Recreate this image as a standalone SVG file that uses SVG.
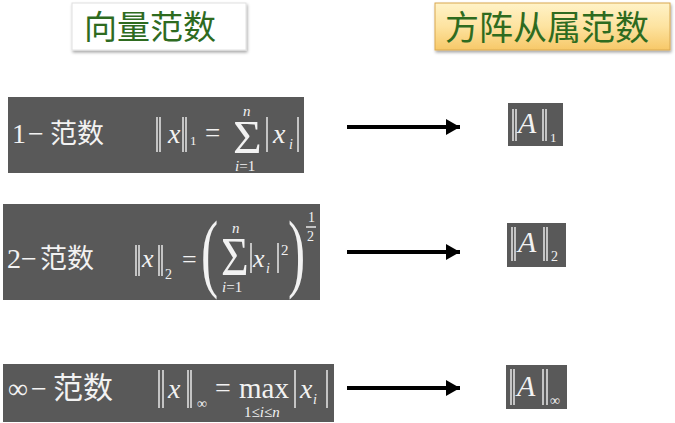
<svg xmlns="http://www.w3.org/2000/svg" width="675" height="423" viewBox="0 0 675 423">
<style>
.bg{fill:#ffffff}
.dk{fill:#595959}
.t{fill:#f2f2f2}
.it{font-style:italic}
.cjk{font-style:normal}
.bar{stroke:#f2f2f2;stroke-width:1.4;fill:none}
.title{fill:#2e6b1f}
.conn{stroke:#000;stroke-width:4;fill:none}
</style>
<defs>
<marker id="ah" markerUnits="userSpaceOnUse" markerWidth="14" markerHeight="16" refX="14" refY="8" orient="auto">
<path d="M0,0 L14,8 L0,16 z" fill="#000"/>
</marker>
<linearGradient id="gold" x1="0" y1="0" x2="0" y2="1">
<stop offset="0" stop-color="#fff3c8"/>
<stop offset="0.5" stop-color="#fde3a0"/>
<stop offset="1" stop-color="#f7c868"/>
</linearGradient>
<filter id="sh" x="-10%" y="-20%" width="130%" height="150%">
<feDropShadow dx="1" dy="2" stdDeviation="1.5" flood-color="#000" flood-opacity="0.35"/>
</filter>
</defs>
<rect class="bg" x="0" y="0" width="675" height="423"/>

<g id="title-vector" font-family="Noto Sans CJK SC, sans-serif">
<rect x="72" y="3" width="174" height="47" fill="#ffffff" stroke="#e0e0e0" stroke-width="1" filter="url(#sh)"/>
<text class="title" x="84" y="39" font-size="33">向量范数</text>
</g>
<g id="title-matrix" font-family="Noto Sans CJK SC, sans-serif">
<rect x="435" y="3" width="235" height="47" fill="url(#gold)" stroke="#d9a850" stroke-width="1" filter="url(#sh)"/>
<text class="title" x="445" y="40" font-size="34">方阵从属范数</text>
</g>

<g id="vec-1" font-family="Liberation Serif, Times New Roman, serif">
<rect class="dk" x="8" y="97" width="296" height="76"/>
<text class="t" y="143" font-size="28"><tspan x="12">1</tspan><tspan x="28">−</tspan><tspan class="cjk" x="50" font-size="27" font-family="Noto Sans CJK SC, sans-serif">范数</tspan></text>
<line class="bar" x1="157" y1="117" x2="157" y2="152"/>
<line class="bar" x1="160" y1="117" x2="160" y2="152"/>
<text class="t it" x="168" y="143" font-size="28">x</text>
<line class="bar" x1="183" y1="117" x2="183" y2="152"/>
<line class="bar" x1="186" y1="117" x2="186" y2="152"/>
<text class="t" x="190" y="145" font-size="13">1</text>
<text class="t" x="205" y="142" font-size="27">=</text>
<text class="t" transform="translate(233,153) scale(1.05,1)" font-size="47">Σ</text>
<text class="t it" x="243" y="116" font-size="15">n</text>
<text class="t" x="235" y="171" font-size="15"><tspan class="it">i</tspan>=1</text>
<line class="bar" x1="267" y1="117" x2="267" y2="152"/>
<text class="t it" x="273" y="143" font-size="28">x</text>
<text class="t it" x="289" y="149" font-size="14">i</text>
<line class="bar" x1="298" y1="117" x2="298" y2="152"/>
</g>

<g id="vec-2" font-family="Liberation Serif, Times New Roman, serif">
<rect class="dk" x="3" y="204" width="317" height="96"/>
<text class="t" y="268" font-size="28"><tspan x="7">2</tspan><tspan x="21">−</tspan><tspan class="cjk" x="40" font-size="27" font-family="Noto Sans CJK SC, sans-serif">范数</tspan></text>
<line class="bar" x1="136" y1="245" x2="136" y2="276"/>
<line class="bar" x1="139" y1="245" x2="139" y2="276"/>
<text class="t it" x="142" y="267" font-size="26">x</text>
<line class="bar" x1="159" y1="245" x2="159" y2="276"/>
<line class="bar" x1="162" y1="245" x2="162" y2="276"/>
<text class="t" x="165" y="279" font-size="14">2</text>
<text class="t" x="182" y="268" font-size="26">=</text>
<text class="t" transform="translate(201,281) scale(0.6,1)" font-size="86">(</text>
<text class="t" transform="translate(221,275) scale(0.85,1)" font-size="56">Σ</text>
<text class="t it" x="232" y="233" font-size="15">n</text>
<text class="t" x="222" y="292" font-size="15"><tspan class="it">i</tspan>=1</text>
<line class="bar" x1="251" y1="243" x2="251" y2="273"/>
<text class="t it" x="253" y="267" font-size="26">x</text>
<text class="t it" x="266" y="273" font-size="14">i</text>
<line class="bar" x1="278" y1="243" x2="278" y2="273"/>
<text class="t" x="281" y="255" font-size="15">2</text>
<text class="t" transform="translate(288,281) scale(0.6,1)" font-size="86">)</text>
<text class="t" x="308" y="222" font-size="14">1</text>
<line class="bar" x1="306" y1="227" x2="316" y2="227"/>
<text class="t" x="307" y="241" font-size="14">2</text>
</g>

<g id="vec-inf" font-family="Liberation Serif, Times New Roman, serif">
<rect class="dk" x="3" y="364" width="331" height="58"/>
<text class="t" y="398" font-size="28"><tspan x="8">∞</tspan><tspan x="31">−</tspan><tspan class="cjk" x="53" font-size="30" font-family="Noto Sans CJK SC, sans-serif">范数</tspan></text>
<line class="bar" x1="159" y1="370" x2="159" y2="408"/>
<line class="bar" x1="163" y1="370" x2="163" y2="408"/>
<text class="t it" x="168" y="398" font-size="28">x</text>
<line class="bar" x1="188" y1="370" x2="188" y2="408"/>
<line class="bar" x1="191" y1="370" x2="191" y2="408"/>
<text class="t" x="197" y="408" font-size="14">∞</text>
<text class="t" x="215" y="397" font-size="28">=</text>
<text class="t" x="239" y="398" font-size="29">max</text>
<text class="t" x="244" y="417" font-size="15">1≤<tspan class="it">i</tspan>≤<tspan class="it">n</tspan></text>
<line class="bar" x1="295" y1="370" x2="295" y2="408"/>
<text class="t it" x="300" y="398" font-size="28">x</text>
<text class="t it" x="313" y="404" font-size="14">i</text>
<line class="bar" x1="327" y1="370" x2="327" y2="408"/>
</g>

<g id="mat-1" font-family="Liberation Serif, Times New Roman, serif">
<rect class="dk" x="508" y="103" width="55" height="43"/>
<line class="bar" x1="513" y1="109" x2="513" y2="141"/>
<line class="bar" x1="516" y1="109" x2="516" y2="141"/>
<text class="t it" x="518" y="133" font-size="30">A</text>
<line class="bar" x1="543" y1="109" x2="543" y2="141"/>
<line class="bar" x1="546" y1="109" x2="546" y2="141"/>
<text class="t" x="550" y="142" font-size="13">1</text>
</g>

<g id="mat-2" font-family="Liberation Serif, Times New Roman, serif">
<rect class="dk" x="507" y="223" width="59" height="44"/>
<line class="bar" x1="512" y1="227" x2="512" y2="261"/>
<line class="bar" x1="515" y1="227" x2="515" y2="261"/>
<text class="t it" x="518" y="252" font-size="30">A</text>
<line class="bar" x1="544" y1="227" x2="544" y2="261"/>
<line class="bar" x1="547" y1="227" x2="547" y2="261"/>
<text class="t" x="551" y="261" font-size="14">2</text>
</g>

<g id="mat-inf" font-family="Liberation Serif, Times New Roman, serif">
<rect class="dk" x="506" y="365" width="61" height="44"/>
<line class="bar" x1="511" y1="369" x2="511" y2="405"/>
<line class="bar" x1="514" y1="369" x2="514" y2="405"/>
<text class="t it" x="517" y="396" font-size="30">A</text>
<line class="bar" x1="543" y1="369" x2="543" y2="405"/>
<line class="bar" x1="547" y1="369" x2="547" y2="405"/>
<text class="t" x="550" y="405" font-size="14">∞</text>
</g>

<g id="connectors">
<line class="conn" x1="347" y1="127" x2="460" y2="127" marker-end="url(#ah)"/>
<line class="conn" x1="347" y1="252" x2="460" y2="252" marker-end="url(#ah)"/>
<line class="conn" x1="347" y1="388" x2="460" y2="388" marker-end="url(#ah)"/>
</g>
</svg>
